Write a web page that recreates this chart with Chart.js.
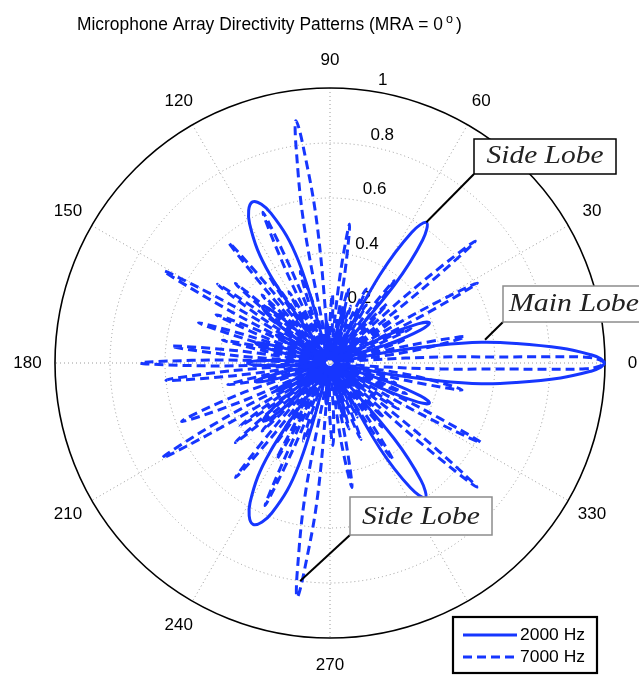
<!DOCTYPE html>
<html>
<head>
<meta charset="utf-8">
<script src="https://cdn.jsdelivr.net/npm/chart.js@4.4.1/dist/chart.umd.min.js"></script>
<style>
  html, body { margin: 0; padding: 0; background: #ffffff; }
  #wrap { position: relative; width: 639px; height: 678px; }
</style>
</head>
<body>
<div id="wrap"><canvas id="chart" width="639" height="678"></canvas></div>
<script>
// Directivity patterns as [angle in degrees, normalised magnitude] pairs,
// traced lobe by lobe (null, shoulder, peak, shoulder, null ...).
const pattern2000 = [
  [0, 1.00], [0.9, 0.985], [1.8, 0.95], [3.7, 0.84], [6, 0.68], [7.8, 0.556], [9.3, 0.40], [10.8, 0.22], [12.5, 0.03],
  [18, 0.23], [20, 0.35], [22, 0.39], [24, 0.35], [26, 0.23], [30, 0.02],
  [35, 0.09], [36.5, 0.135], [38, 0.15], [39.5, 0.135], [41, 0.09], [46, 0.02],
  [50.5, 0.37], [53, 0.56], [55.5, 0.62], [58, 0.56], [60.5, 0.37], [64, 0.02],
  [72, 0.12], [73.5, 0.18], [75, 0.20], [76.5, 0.18], [78, 0.12], [86, 0.02],
  [92, 0.09], [93.5, 0.135], [95, 0.15], [96.5, 0.135], [98, 0.09], [104, 0.02],
  [107.2, 0.39], [111.5, 0.585], [115.7, 0.65], [120, 0.585], [124.2, 0.39], [128, 0.02],
  [136, 0.19], [138, 0.29], [140, 0.32], [142, 0.29], [144, 0.19], [147, 0.02],
  [149.5, 0.13], [151, 0.20], [152.5, 0.22], [154, 0.20], [155.5, 0.13], [159, 0.02],
  [162, 0.17], [163.5, 0.25], [165, 0.28], [166.5, 0.25], [168, 0.17], [172, 0.02],
  [177, 0.18], [178.5, 0.27], [180, 0.30], [181.5, 0.27], [183, 0.18], [187, 0.02],
  [191, 0.17], [192.5, 0.25], [194, 0.28], [195.5, 0.25], [197, 0.17], [201, 0.02],
  [204.5, 0.13], [206, 0.20], [207.5, 0.22], [209, 0.20], [210.5, 0.13], [214, 0.02],
  [217, 0.19], [219, 0.29], [221, 0.32], [223, 0.29], [225, 0.19], [232, 0.02],
  [236, 0.39], [240.2, 0.585], [244.5, 0.65], [248.8, 0.585], [253, 0.39], [257, 0.02],
  [262, 0.09], [263.5, 0.135], [265, 0.15], [266.5, 0.135], [268, 0.09], [275, 0.02],
  [282, 0.12], [283.5, 0.18], [285, 0.20], [286.5, 0.18], [288, 0.12], [296, 0.02],
  [300.3, 0.36], [302.8, 0.54], [305.3, 0.60], [307.8, 0.54], [310.3, 0.36], [314, 0.02],
  [320, 0.09], [321.5, 0.135], [323, 0.15], [324.5, 0.135], [326, 0.09], [330, 0.02],
  [334, 0.23], [336, 0.35], [338, 0.39], [340, 0.35], [342, 0.23], [347.5, 0.03],
  [349.2, 0.22], [350.7, 0.40], [352.2, 0.556], [354, 0.68], [356.3, 0.84], [358.2, 0.95], [359.1, 0.985], [360, 1.00]
];

const pattern7000 = [
  [0, 1.00], [0.7, 0.98], [1.3, 0.93], [1.6, 0.80], [2.1, 0.60], [3.1, 0.40], [4.5, 0.15], [5.5, 0.02],
  [8.3, 0.30], [11, 0.50], [12.5, 0.30], [14, 0.02],
  [15.5, 0.17], [17, 0.28], [18.5, 0.17], [20, 0.02],
  [21.5, 0.19], [23, 0.32], [24.4, 0.19], [25.7, 0.02],
  [27.1, 0.37], [28.5, 0.61], [30, 0.37], [31.5, 0.02],
  [33, 0.18], [34.5, 0.30], [35.9, 0.18], [37.2, 0.02],
  [38.6, 0.41], [40, 0.69], [41.5, 0.41], [43, 0.02],
  [44.5, 0.18], [46, 0.30], [47.5, 0.18], [49, 0.02],
  [50.5, 0.23], [52, 0.38], [53.5, 0.23], [55, 0.02],
  [56.5, 0.15], [58, 0.25], [59.5, 0.15], [61, 0.02],
  [62.5, 0.18], [64, 0.30], [65.5, 0.18], [67, 0.02],
  [68.5, 0.13], [70, 0.22], [71.5, 0.13], [73, 0.02],
  [74.5, 0.17], [76, 0.28], [77.5, 0.17], [79, 0.02],
  [80.5, 0.31], [82, 0.51], [83.5, 0.31], [85, 0.02],
  [86.5, 0.15], [88, 0.25], [90, 0.15], [92, 0.02],
  [95.3, 0.50], [97.1, 0.80], [98, 0.89], [98.9, 0.80], [100.7, 0.50], [103, 0.02],
  [105.5, 0.21], [108, 0.35], [109.5, 0.21], [111, 0.02],
  [112.5, 0.36], [114, 0.60], [115.5, 0.36], [117, 0.02],
  [118.5, 0.18], [120, 0.30], [121.3, 0.18], [122.5, 0.02],
  [123.8, 0.23], [125, 0.38], [126.3, 0.23], [127.5, 0.02],
  [128.8, 0.34], [130, 0.57], [131.3, 0.34], [132.5, 0.02],
  [133.8, 0.21], [135, 0.35], [136.3, 0.21], [137.5, 0.02],
  [138.8, 0.27], [140, 0.45], [141.3, 0.27], [142.5, 0.02],
  [143.8, 0.30], [145, 0.50], [146.5, 0.30], [148, 0.02],
  [149.5, 0.41], [151, 0.69], [152.5, 0.41], [154, 0.02],
  [155.5, 0.27], [157, 0.45], [158.5, 0.27], [160, 0.02],
  [161.5, 0.30], [163, 0.50], [164.3, 0.30], [165.5, 0.02],
  [166.8, 0.24], [168, 0.40], [169.5, 0.24], [171, 0.02],
  [172.5, 0.35], [174, 0.58], [175.5, 0.35], [177, 0.02],
  [178.5, 0.41], [180, 0.69], [181.5, 0.41], [183, 0.02],
  [184.5, 0.36], [186, 0.60], [187.5, 0.36], [189, 0.02],
  [190.5, 0.23], [192, 0.38], [194, 0.23], [196.5, 0.02],
  [199, 0.35], [201.5, 0.58], [203.5, 0.35], [205.5, 0.02],
  [207.5, 0.42], [209.5, 0.70], [210.8, 0.42], [212, 0.02],
  [213.5, 0.24], [215, 0.40], [216.3, 0.24], [217.5, 0.02],
  [218.8, 0.27], [220, 0.45], [221.3, 0.27], [222.5, 0.02],
  [223.8, 0.21], [225, 0.35], [226.4, 0.21], [227.7, 0.02],
  [229.1, 0.32], [230.5, 0.54], [231.9, 0.32], [233.2, 0.02],
  [234.6, 0.21], [236, 0.35], [237.3, 0.21], [238.5, 0.02],
  [239.8, 0.24], [241, 0.40], [242.1, 0.24], [243.2, 0.02],
  [244.4, 0.34], [245.5, 0.57], [246.9, 0.34], [248.2, 0.02],
  [249.6, 0.18], [251, 0.30], [253.5, 0.18], [256, 0.02],
  [259.3, 0.48], [261.1, 0.77], [262, 0.86], [262.9, 0.77], [264.7, 0.48], [267, 0.02],
  [269.5, 0.18], [272, 0.30], [274, 0.18], [276, 0.02],
  [278, 0.28], [280, 0.46], [281.5, 0.28], [283, 0.02],
  [284.5, 0.15], [286, 0.25], [287.5, 0.15], [289, 0.02],
  [290.5, 0.18], [292, 0.30], [293.3, 0.18], [294.5, 0.02],
  [295.8, 0.13], [297, 0.22], [298.5, 0.13], [300, 0.02],
  [301.5, 0.25], [303, 0.42], [304.5, 0.25], [306, 0.02],
  [307.5, 0.18], [309, 0.30], [310.4, 0.18], [311.7, 0.02],
  [313.1, 0.17], [314.5, 0.28], [315.8, 0.17], [317.1, 0.02],
  [318.5, 0.42], [319.8, 0.70], [321.4, 0.42], [323, 0.02],
  [324.5, 0.18], [326, 0.30], [327.5, 0.18], [329, 0.02],
  [330.6, 0.37], [332.2, 0.62], [333.6, 0.37], [335, 0.02],
  [336.5, 0.18], [338, 0.30], [339.3, 0.18], [340.5, 0.02],
  [341.8, 0.15], [343, 0.25], [344.4, 0.15], [345.7, 0.02],
  [347.1, 0.29], [348.5, 0.49], [351.5, 0.29], [354.5, 0.02],
  [355.5, 0.15], [356.9, 0.40], [357.9, 0.60], [358.4, 0.80], [358.7, 0.93], [359.3, 0.98], [360, 1.00]
];

const seriesLabels = ['2000 Hz', '7000 Hz'];
const angleTicks = [0, 30, 60, 90, 120, 150, 180, 210, 240, 270, 300, 330];
const radialTicks = [0.2, 0.4, 0.6, 0.8, 1];
const titleText = 'Microphone Array Directivity Patterns (MRA = 0';

// Callouts: text and the point each leader line reaches ([deg, r]).
const calloutTexts = ['Side Lobe', 'Main Lobe', 'Side Lobe'];
const calloutTargets = [[55.6, 0.62], [8.5, 0.57], [262.2, 0.80]];

const BLUE = '#1636ff';
const SANS = '"Liberation Sans", Arial, Helvetica, sans-serif';
const SERIF = '"Liberation Serif", "Times New Roman", serif';
const rad = d => d * Math.PI / 180;
const toXY = pts => pts.map(([deg, r]) => ({ x: r * Math.cos(rad(deg)), y: r * Math.sin(rad(deg)) }));

function px(chart, x, y) {
  return [chart.scales.x.getPixelForValue(x), chart.scales.y.getPixelForValue(y)];
}
function polarPx(chart, deg, r) {
  return px(chart, r * Math.cos(rad(deg)), r * Math.sin(rad(deg)));
}
// draw text squeezed/stretched horizontally to a given width
function fitText(ctx, text, x, y, width) {
  const w = ctx.measureText(text).width;
  ctx.save();
  ctx.translate(x, y);
  ctx.scale(width / w, 1);
  ctx.fillText(text, 0, 0);
  ctx.restore();
}

const polarGrid = {
  id: 'polarGrid',
  beforeDatasetsDraw(chart) {
    const ctx = chart.ctx;
    const [cx, cy] = px(chart, 0, 0);
    const R = chart.scales.x.getPixelForValue(1) - cx;
    ctx.save();
    // dotted rings
    ctx.strokeStyle = '#9a9a9a';
    ctx.lineWidth = 1;
    ctx.setLineDash([1, 3]);
    radialTicks.slice(0, -1).forEach(t => {
      ctx.beginPath();
      ctx.arc(cx, cy, t * R, 0, Math.PI * 2);
      ctx.stroke();
    });
    // dotted spokes every 30 degrees
    angleTicks.filter(a => a < 180).forEach(a => {
      const [x1, y1] = polarPx(chart, a, 1);
      const [x2, y2] = polarPx(chart, a + 180, 1);
      ctx.beginPath();
      ctx.moveTo(x1, y1);
      ctx.lineTo(x2, y2);
      ctx.stroke();
    });
    ctx.setLineDash([]);
    // outer ring
    ctx.strokeStyle = '#000';
    ctx.lineWidth = 1.6;
    ctx.beginPath();
    ctx.arc(cx, cy, R, 0, Math.PI * 2);
    ctx.stroke();
    // angle labels
    ctx.fillStyle = '#000';
    ctx.font = '17px ' + SANS;
    ctx.textAlign = 'center';
    ctx.textBaseline = 'middle';
    angleTicks.forEach(a => {
      const [x, y] = polarPx(chart, a, 1.1);
      ctx.fillText(String(a), x, y);
    });
    // radial labels along the 82 degree line
    ctx.textAlign = 'left';
    ctx.textBaseline = 'bottom';
    radialTicks.forEach(t => {
      const [x, y] = polarPx(chart, 82, t + 0.01);
      ctx.fillText('  ' + String(t), x, y + 1);
    });
    ctx.restore();
  }
};

const overlay = {
  id: 'overlay',
  afterDatasetsDraw(chart) {
    const ctx = chart.ctx;
    ctx.save();
    // callouts
    const boxes = [
      { left: 474, bottom: 174, w: 142, h: 35, border: '#000', tw: 117 },
      { left: 503, bottom: 322, w: 142, h: 36, border: '#8c8c8c', tw: 130 },
      { left: 350, bottom: 535, w: 142, h: 38, border: '#8c8c8c', tw: 118 }
    ];
    boxes.forEach((b, i) => {
      const [tx, ty] = polarPx(chart, calloutTargets[i][0], calloutTargets[i][1]);
      ctx.strokeStyle = '#000';
      ctx.lineWidth = 2;
      ctx.beginPath();
      ctx.moveTo(b.left, b.bottom);
      ctx.lineTo(tx, ty);
      ctx.stroke();
      ctx.fillStyle = '#fff';
      ctx.fillRect(b.left, b.bottom - b.h, b.w, b.h);
      ctx.strokeStyle = b.border;
      ctx.lineWidth = 1.5;
      ctx.strokeRect(b.left, b.bottom - b.h, b.w, b.h);
      ctx.fillStyle = '#222';
      ctx.font = 'italic 26px ' + SERIF;
      ctx.textAlign = 'left';
      ctx.textBaseline = 'alphabetic';
      fitText(ctx, calloutTexts[i], b.left + (b.w - b.tw) / 2, b.bottom - 11, b.tw);
    });

    // legend
    const lx = 453, ly = 617, lw = 144, lh = 56;
    ctx.fillStyle = '#fff';
    ctx.fillRect(lx, ly, lw, lh);
    ctx.strokeStyle = '#000';
    ctx.lineWidth = 2.2;
    ctx.strokeRect(lx, ly, lw, lh);
    chart.data.datasets.forEach((ds, i) => {
      const y = ly + 18 + i * 22;
      ctx.strokeStyle = ds.borderColor;
      ctx.lineWidth = 3;
      ctx.setLineDash(ds.borderDash || []);
      ctx.beginPath();
      ctx.moveTo(lx + 10, y);
      ctx.lineTo(lx + 64, y);
      ctx.stroke();
      ctx.setLineDash([]);
      ctx.fillStyle = '#000';
      ctx.font = '16px ' + SANS;
      ctx.textAlign = 'left';
      ctx.textBaseline = 'middle';
      fitText(ctx, ds.label, lx + 67, y + 1, 65);
    });

    // title with superscript degree mark
    ctx.fillStyle = '#000';
    ctx.textBaseline = 'alphabetic';
    ctx.textAlign = 'left';
    ctx.font = '17.5px ' + SANS;
    const base = 30;
    fitText(ctx, titleText, 77, base, 366);
    ctx.font = '12.5px ' + SANS;
    ctx.fillText('o', 446, base - 7);
    ctx.font = '17.5px ' + SANS;
    ctx.fillText(')', 456, base);
    ctx.restore();
  }
};

new Chart(document.getElementById('chart'), {
  type: 'scatter',
  data: {
    datasets: [
      { label: seriesLabels[0], data: toXY(pattern2000), showLine: true, borderColor: BLUE,
        borderWidth: 3, pointRadius: 0, tension: 0.4, fill: false, clip: false, order: 2 },
      { label: seriesLabels[1], data: toXY(pattern7000), showLine: true, borderColor: BLUE,
        borderWidth: 3, borderDash: [9, 5], pointRadius: 0, tension: 0.4, fill: false, clip: false, order: 1 }
    ]
  },
  options: {
    responsive: false,
    animation: false,
    devicePixelRatio: 1,
    events: [],
    layout: { padding: { left: 55, right: 34, top: 88, bottom: 40 } },
    scales: {
      x: { type: 'linear', min: -1, max: 1, display: false },
      y: { type: 'linear', min: -1, max: 1, display: false }
    },
    plugins: { legend: { display: false }, tooltip: { enabled: false }, title: { display: false } }
  },
  plugins: [polarGrid, overlay]
});
</script>
</body>
</html>
